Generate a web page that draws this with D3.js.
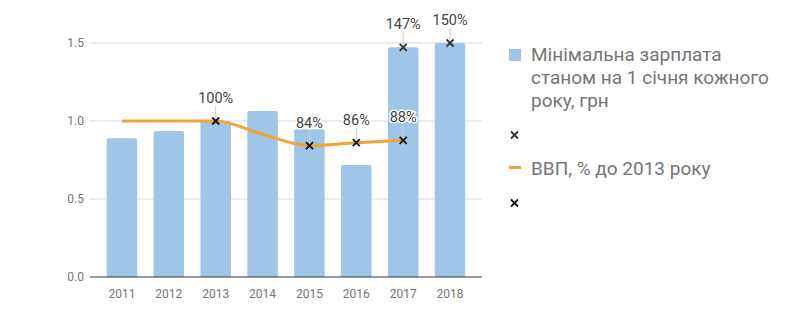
<!DOCTYPE html>
<html><head><meta charset="utf-8">
<script src="https://cdn.jsdelivr.net/npm/d3@7/dist/d3.min.js"></script>
<style>
body{margin:0;background:#fff;}
svg{display:block;font-family:Roboto,"Noto Sans",sans-serif;}
</style></head>
<body><svg id="c" width="800" height="324"></svg>
<script>
const years = ["2011","2012","2013","2014","2015","2016","2017","2018"];
const wage = [0.889, 0.936, 1.0, 1.064, 0.947, 0.718, 1.472, 1.5];
const gdpYears = ["2011","2012","2013","2014","2015","2016","2017"];
const gdp = [1.0, 1.0, 1.0, 0.915, 0.842, 0.861, 0.876];
const wageMarkYears = ["2017","2018"];
const wageMarkVals = [1.472, 1.5];
const wageMarkLabels = ["147%","150%"];
const gdpMarkYears = ["2013","2015","2016","2017"];
const gdpMarkVals = [1.0, 0.842, 0.861, 0.876];
const gdpMarkLabels = ["100%","84%","86%","88%"];
const yTicks = [0, 0.5, 1.0, 1.5];
const legendWage = ["Мінімальна зарплата","станом на 1 січня кожного","року, грн"];
const legendGdp = "ВВП, % до 2013 року";

const svg = d3.select("#c");
const x = d3.scaleBand().domain(years).range([98.5, 473.5]).paddingInner(0.35).paddingOuter(0.175);
const y = d3.scaleLinear().domain([0, 1.5]).range([277, 43]);
const cx = d => x(d) + x.bandwidth()/2;

// grid
svg.append("g").selectAll("line").data(yTicks.filter(t=>t>0)).join("line")
  .attr("x1",90).attr("x2",482).attr("y1",d=>y(d)).attr("y2",d=>y(d))
  .attr("stroke","#d9d9d9").attr("stroke-width",1);

// y axis labels
const yAxis = d3.axisLeft(y).tickValues(yTicks).tickFormat(d3.format(".1f")).tickSize(0).tickPadding(6);
const ga = svg.append("g").attr("transform","translate(90,0)").call(yAxis);
ga.select(".domain").remove();
ga.selectAll("text").attr("fill","#757575").style("font-size","12px").attr("font-family","Roboto");

// bars
svg.append("g").selectAll("path").data(years).join("path")
  .attr("d",(d,i)=>{
    const x0=x(d), w=x.bandwidth(), y0=y(wage[i]), y1=y(0), r=2;
    return `M${x0},${y1}V${y0+r}Q${x0},${y0} ${x0+r},${y0}H${x0+w-r}Q${x0+w},${y0} ${x0+w},${y0+r}V${y1}Z`;
  })
  .attr("fill","#9fc5e8");

// baseline
svg.append("line").attr("x1",90).attr("x2",482).attr("y1",y(0)).attr("y2",y(0))
  .attr("stroke","#333").attr("stroke-width",1);

// x axis labels
const xAxis = d3.axisBottom(x).tickSize(0).tickPadding(12);
const gx = svg.append("g").attr("transform",`translate(0,${y(0)})`).call(xAxis);
gx.select(".domain").remove();
gx.selectAll("text").attr("fill","#757575").style("font-size","12px").attr("font-family","Roboto");

// gdp line
const line = d3.line().x((d,i)=>cx(gdpYears[i])).y(d=>y(d)).curve(d3.curveMonotoneX);
svg.append("path").datum(gdp).attr("d",line).attr("fill","none")
  .attr("stroke","#f2a431").attr("stroke-width",3);

function cross(g, px, py, color, s){
  g.append("path").attr("d",`M${px-s},${py-s}L${px+s},${py+s}M${px+s},${py-s}L${px-s},${py+s}`)
   .attr("stroke",color).attr("stroke-width",1.8).attr("fill","none");
}
function annotate(yrs, vals, labels, markColor){
  const g = svg.append("g");
  yrs.forEach((yr,i)=>{
    const px=cx(yr), py=y(vals[i]);
    g.append("line").attr("x1",px).attr("x2",px).attr("y1",py).attr("y2",py-15)
      .attr("stroke","#cccccc").attr("stroke-width",1);
    cross(g, px, py, markColor, 3.5);
    g.append("text").attr("x",px).attr("y",py-18).attr("text-anchor","middle")
      .attr("fill","#444").style("font-size","14.5px")
      .attr("stroke","#fff").attr("stroke-width",3).attr("paint-order","stroke")
      .text(labels[i]);
  });
}
annotate(wageMarkYears, wageMarkVals, wageMarkLabels, "#333");
annotate(gdpMarkYears, gdpMarkVals, gdpMarkLabels, "#111");

// legend
const lg = svg.append("g");
lg.append("rect").attr("x",509).attr("y",49).attr("width",12).attr("height",12).attr("fill","#9fc5e8");
lg.append("text").attr("x",531).attr("fill","#757575").style("font-size","19px")
  .selectAll("tspan").data(legendWage).join("tspan")
  .attr("x",531).attr("y",(d,i)=>61+i*23).text(d=>d);
cross(lg, 514.5, 135, "#333", 3.5);
lg.append("rect").attr("x",509).attr("y",166).attr("width",12).attr("height",3).attr("fill","#f2a431");
lg.append("text").attr("x",531).attr("y",174.5).attr("fill","#757575").style("font-size","19px").text(legendGdp);
cross(lg, 514.5, 203, "#111", 3.5);
</script></body></html>
